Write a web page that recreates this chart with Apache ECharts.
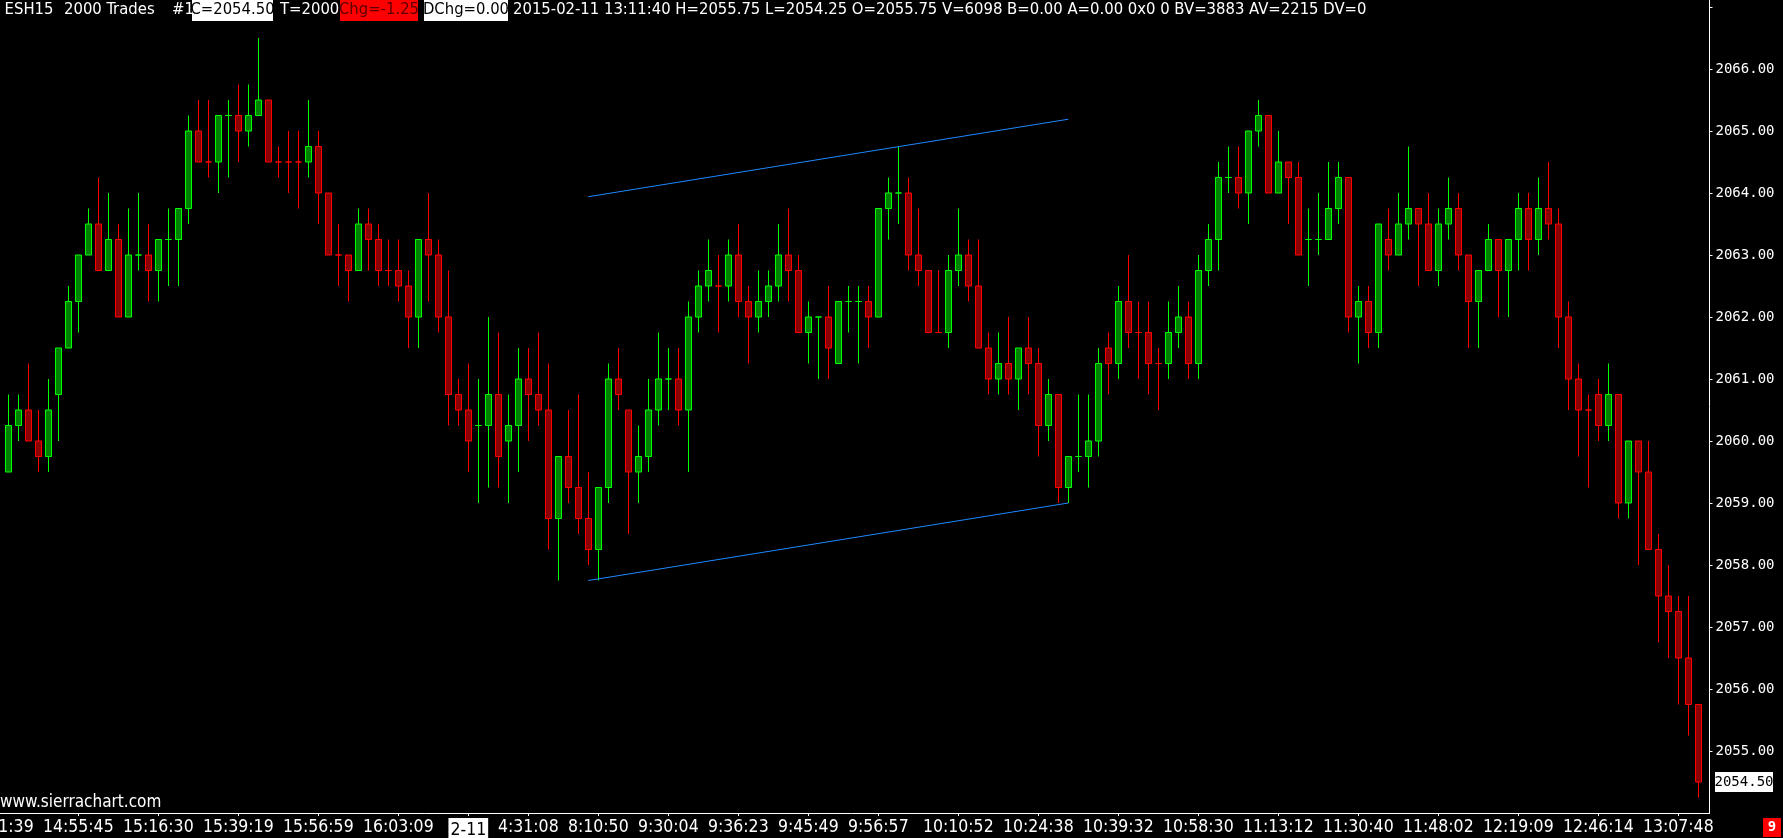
<!DOCTYPE html>
<html><head><meta charset="utf-8">
<script src="https://cdn.jsdelivr.net/npm/echarts@6/dist/echarts.min.js"></script>
<style>html,body{margin:0;padding:0;background:#000;overflow:hidden}#c{width:1783px;height:838px}</style>
</head><body><div id="c"></div>
<script>
// ---------------- data ----------------
const openPrices = [
2059.5,2060.25,2060.5,2060,2059.75,2060.75,2061.5,2062.25,2063,2063.5,
2062.75,2063.25,2062,2063,2063,2062.75,2063.25,2063.25,2063.75,2065,
2064.5,2064.5,2065.25,2065.25,2065,2065.25,2065.5,2064.5,2064.5,2064.5,
2064.5,2064.75,2064,2063,2063,2062.75,2063.5,2063.25,2062.75,2062.75,
2062.5,2062,2063.25,2063,2062,2060.75,2060.5,2060.25,2060.25,2060.75,
2060,2060.25,2061,2060.75,2060.5,2058.75,2059.75,2059.25,2058.75,2058.25,
2059.25,2061,2060.5,2059.5,2059.75,2060.5,2061,2061,2060.5,2062,
2062.5,2062.5,2062.5,2063,2062.25,2062,2062.25,2062.5,2063,2062.75,
2061.75,2062,2062,2061.25,2062.25,2062.25,2062.25,2062,2063.75,2064,
2064,2063,2062.75,2061.75,2061.75,2062.75,2063,2062.5,2061.5,2061,
2061.25,2061,2061.5,2061.25,2060.25,2060.75,2059.25,2059.75,2059.75,2060,
2061.5,2061.25,2062.25,2061.75,2061.75,2061.25,2061.25,2061.75,2062,2061.25,
2062.75,2063.25,2064.25,2064.25,2064,2065,2065.25,2064,2064.5,2064.25,
2063.25,2063.25,2063.25,2063.75,2064.25,2062,2062.25,2061.75,2063.25,2063,
2063.5,2063.75,2063.5,2062.75,2063.5,2063.75,2063,2062.25,2062.75,2063.25,
2062.75,2063.25,2063.75,2063.25,2063.75,2063.5,2062,2061,2060.5,2060.75,
2060.25,2060.75,2059,2060,2059.5,2058.25,2057.5,2057.25,2056.5,2055.75
];
const closePrices = [
2060.25,2060.5,2060,2059.75,2060.5,2061.5,2062.25,2063,2063.5,2062.75,
2063.25,2062,2063,2063,2062.75,2063.25,2063.25,2063.75,2065,2064.5,
2064.5,2065.25,2065.25,2065,2065.25,2065.5,2064.5,2064.5,2064.5,2064.5,
2064.75,2064,2063,2063,2062.75,2063.5,2063.25,2062.75,2062.75,2062.5,
2062,2063.25,2063,2062,2060.75,2060.5,2060,2060.25,2060.75,2059.75,
2060.25,2061,2060.75,2060.5,2058.75,2059.75,2059.25,2058.75,2058.25,2059.25,
2061,2060.75,2059.5,2059.75,2060.5,2061,2061,2060.5,2062,2062.5,
2062.75,2062.5,2063,2062.25,2062,2062.25,2062.5,2063,2062.75,2061.75,
2062,2062,2061.5,2062.25,2062.25,2062.25,2062,2063.75,2064,2064,
2063,2062.75,2061.75,2061.75,2062.75,2063,2062.5,2061.5,2061,2061.25,
2061,2061.5,2061.25,2060.25,2060.75,2059.25,2059.75,2059.75,2060,2061.25,
2061.25,2062.25,2061.75,2061.75,2061.25,2061.25,2061.75,2062,2061.25,2062.75,
2063.25,2064.25,2064.25,2064,2065,2065.25,2064,2064.5,2064.25,2063,
2063.25,2063.25,2063.75,2064.25,2062,2062.25,2061.75,2063.5,2063,2063.5,
2063.75,2063.5,2062.75,2063.5,2063.75,2063,2062.25,2062.75,2063.25,2062.75,
2063.25,2063.75,2063.25,2063.75,2063.5,2062,2061,2060.5,2060.5,2060.25,
2060.75,2059,2060,2059.5,2058.25,2057.5,2057.25,2056.5,2055.75,2054.5
];
const highPrices = [
2060.75,2060.75,2061.25,2060.5,2061,2061.5,2062.5,2063,2063.75,2064.25,
2064,2063.5,2063.75,2064,2063.5,2063.25,2063.75,2063.75,2065.25,2065.5,
2065.5,2065.25,2065.5,2065.75,2065.75,2066.5,2065.5,2064.75,2065,2065,
2065.5,2065,2064,2063.5,2063,2063.75,2063.75,2063.5,2063.25,2063.25,
2062.75,2063.25,2064,2063.25,2062.75,2061,2061.25,2061,2062,2061.75,
2060.75,2061.5,2061.5,2061.75,2061.25,2059.75,2060.5,2060.75,2059.5,2059.25,
2061.25,2061.5,2060.5,2060.25,2061,2061.75,2061.5,2061.5,2062.25,2062.75,
2063.25,2063,2063.25,2063.5,2062.5,2062.75,2062.75,2063.5,2063.75,2063,
2062.25,2062,2062.5,2062.25,2062.5,2062.5,2062.5,2063.75,2064.25,2064.75,
2064.25,2063.75,2062.75,2062.75,2063,2063.75,2063.25,2063.25,2061.75,2061.75,
2062,2061.5,2062,2061.5,2061,2060.75,2059.75,2060.75,2060.75,2061.5,
2061.75,2062.5,2063,2062.25,2062.25,2061.5,2062.25,2062.5,2062.25,2063,
2063.5,2064.5,2064.75,2064.75,2065,2065.5,2065.25,2065,2064.5,2064.5,
2063.75,2064,2064.5,2064.5,2064.25,2062.5,2062.5,2063.5,2063.75,2064,
2064.75,2063.75,2064,2063.75,2064.25,2064,2063,2062.75,2063.5,2063.25,
2063.25,2064,2064,2064.25,2064.5,2063.75,2062.25,2061.25,2060.75,2061,
2061.25,2060.75,2060,2060,2060,2058.5,2058,2057.5,2057.5,2055.75
];
const lowPrices = [
2059.5,2060,2060,2059.5,2059.5,2060,2061.5,2061.75,2063,2062.75,
2062.75,2062,2062,2062.75,2062.25,2062.25,2062.5,2062.5,2063.5,2064.5,
2064.25,2064,2064.25,2064.5,2064.75,2065.25,2064.5,2064.25,2064,2063.75,
2064.25,2063.5,2063,2062.5,2062.25,2062.75,2062.75,2062.5,2062.5,2062.25,
2061.5,2061.5,2062.25,2061.75,2060.25,2060.25,2059.5,2059,2059.25,2059.25,
2059,2059.5,2060,2060.25,2058.25,2057.75,2059,2058.5,2058,2057.75,
2059,2060.5,2058.5,2059,2059.5,2060.25,2060.5,2060.25,2059.5,2061.75,
2062.25,2061.75,2062.25,2062,2061.25,2061.75,2062,2062.25,2062.25,2061.75,
2061.25,2061,2061,2061.25,2061.75,2061.25,2061.5,2062,2063.25,2063.5,
2062.75,2062.5,2061.75,2061.75,2061.5,2062.5,2062.25,2061.5,2060.75,2060.75,
2060.75,2060.5,2060.75,2059.75,2060,2059,2059,2059.5,2059.25,2059.75,
2060.75,2061,2061.5,2061,2060.75,2060.5,2061,2061.5,2061,2061,
2062.5,2062.75,2064,2063.75,2063.5,2064.75,2064,2064,2063.5,2063,
2062.5,2063,2063.25,2063.5,2061.75,2061.25,2061.5,2061.5,2062.75,2063,
2063.25,2062.5,2062.75,2062.5,2063.25,2062.75,2061.5,2061.5,2062.75,2062,
2062,2062.75,2062.75,2063,2063.25,2061.5,2060.5,2059.75,2059.25,2060,
2060,2058.75,2058.75,2058,2058.25,2056.75,2056.5,2055.75,2055.25,2054.25
];
// bar index (0 = first fully visible bar, -1 = bar cut at the left edge) and its time label
const tickBars  = [-1, 7, 15, 23, 31, 39, 46, 52, 59, 66, 73, 80, 87, 95, 103, 111, 119, 127, 135, 143, 151, 159, 167];
const tickTexts = ['14:51:39','14:55:45','15:16:30','15:39:19','15:56:59','16:03:09','2-11','4:31:08','8:10:50','9:30:04','9:36:23','9:45:49','9:56:57','10:10:52','10:24:38','10:39:32','10:58:30','11:13:12','11:30:40','11:48:02','12:19:09','12:46:14','13:07:48'];
const dateBreakText = '2-11';
const channelLower = [[58, 2057.75], [106, 2059.0]];
const channelUpper = [[58, 2063.94], [106, 2065.19]];
const priceTicks = [2055, 2056, 2057, 2058, 2059, 2060, 2061, 2062, 2063, 2064, 2065, 2066];
const lastPrice = 2054.50;
const headerTexts = ['ESH15', '2000 Trades', '#1', 'C=2054.50', 'T=2000', 'Chg=-1.25', 'DChg=0.00',
  '2015-02-11 13:11:40 H=2055.75 L=2054.25 O=2055.75 V=6098 B=0.00 A=0.00 0x0 0 BV=3883 AV=2215 DV=0'];
const watermark = 'www.sierrachart.com';
const cornerText = '9';

// ---------------- build ----------------
const N = openPrices.length;
const categories = [];
for (let i = -1; i < N; i++) categories.push(String(i));
const labelMap = {};
tickBars.forEach((b, i) => { labelMap[b + 1] = tickTexts[i]; });

const UP_FILL = '#008000', UP_LINE = '#00ff00', DN_FILL = '#8b0000', DN_LINE = '#ff0000';
let prevSign = 1;
const candleData = [];
for (let i = 0; i < N; i++) {
  const o = openPrices[i], c = closePrices[i];
  let s;
  if (c > o) s = 1; else if (c < o) s = -1;
  else if (i > 0 && c > closePrices[i - 1]) s = 1;
  else if (i > 0 && c < closePrices[i - 1]) s = -1;
  else s = prevSign;
  prevSign = s;
  const fill = s > 0 ? UP_FILL : DN_FILL, line = s > 0 ? UP_LINE : DN_LINE;
  candleData.push({
    value: [i + 1, o, c, lowPrices[i], highPrices[i]],
    itemStyle: { color: fill, color0: fill, borderColor: line, borderColor0: line, borderColorDoji: line, borderWidth: 1 }
  });
}

const CONDENSED = "'DejaVu Sans Condensed', 'Liberation Sans Narrow', 'DejaVu Sans', sans-serif";
const MONO = "'DejaVu Sans Mono', 'Liberation Mono', monospace";

const GRID_TOP = 0, GRID_H = 813, PX_PER_PT = 62, Y_MIN = 2054;
const Y_MAX = Y_MIN + GRID_H / PX_PER_PT;
const GRID_LEFT = -6.7, BAND = 10;
const GRID_W = BAND * (N + 1);
const AXIS_X = 1709.5;

const chart = echarts.init(document.getElementById('c'), null, { renderer: 'canvas' });
const option = {
  backgroundColor: '#000',
  animation: false,
  grid: { left: GRID_LEFT, top: GRID_TOP, width: GRID_W, height: GRID_H, containLabel: false, outerBoundsMode: 'none' },
  xAxis: {
    type: 'category', data: categories, boundaryGap: true,
    axisLine: { show: true, lineStyle: { color: '#ffffff', width: 1 } },
    axisTick: { show: true, alignWithLabel: true, length: 3, interval: (idx) => labelMap[idx] !== undefined, lineStyle: { color: '#ffffff' } },
    axisLabel: {
      show: true, interval: (idx) => labelMap[idx] !== undefined, hideOverlap: false,
      formatter: (val, idx) => {
        const t = labelMap[idx];
        if (t === undefined) return '';
        return t === dateBreakText ? '{box|' + t + '}' : t;
      },
      color: '#ffffff', fontFamily: CONDENSED, fontSize: 17.5, margin: 5,
      rich: { box: { backgroundColor: '#ffffff', color: '#000000', fontFamily: CONDENSED, fontSize: 17.5, padding: [3, 2, 3, 2] } }
    },
    splitLine: { show: false }
  },
  yAxis: {
    type: 'value', position: 'right', offset: AXIS_X - (GRID_LEFT + GRID_W),
    min: Y_MIN, max: Y_MAX, interval: 1, scale: true,
    axisLine: { show: true, lineStyle: { color: '#ffffff', width: 1 } },
    axisTick: { show: true, length: 3, lineStyle: { color: '#ffffff' } },
    axisLabel: {
      show: true, showMinLabel: false, showMaxLabel: false, margin: 6,
      color: '#ffffff', fontFamily: MONO, fontSize: 14,
      formatter: (v) => priceTicks.indexOf(Math.round(v * 100) / 100) >= 0 ? v.toFixed(2) : ''
    },
    splitLine: { show: false }
  },
  series: [
    {
      type: 'candlestick', data: candleData, encode: { x: 0, y: [1, 2, 3, 4] },
      barWidth: 6, itemStyle: { borderWidth: 1 }, silent: true
    },
    {
      type: 'line', data: channelLower.map(p => [p[0] + 1, p[1]]), symbol: 'none', silent: true,
      lineStyle: { color: '#1e88ff', width: 1 }, z: 5
    },
    {
      type: 'line', data: channelUpper.map(p => [p[0] + 1, p[1]]), symbol: 'none', silent: true,
      lineStyle: { color: '#1e88ff', width: 1 }, z: 5
    }
  ]
};
chart.setOption(option);

// ---------------- annotations ----------------
const yLast = chart.convertToPixel({ yAxisIndex: 0 }, lastPrice);
const HFS = 16.5;
const hdrY = 10;
const g = [];
function txt(x, y, s, opts) {
  return Object.assign({ type: 'text', x: x, y: y, silent: true, z: 100,
    style: Object.assign({ text: s, fill: '#ffffff', font: HFS + 'px ' + CONDENSED, textAlign: 'left', textVerticalAlign: 'middle' }, opts || {}) });
}
function rect(x, y, w, h, fill) {
  return { type: 'rect', shape: { x: x, y: y, width: w, height: h }, style: { fill: fill }, silent: true, z: 99 };
}
// header
g.push(txt(4.6, hdrY, headerTexts[0]));
g.push(txt(64, hdrY, headerTexts[1]));
g.push(txt(172, hdrY, headerTexts[2]));
g.push(rect(192, 0, 81, 21, '#ffffff'));
g.push(txt(232.5, hdrY, headerTexts[3], { fill: '#000000', textAlign: 'center' }));
g.push(txt(280, hdrY, headerTexts[4]));
g.push(rect(340, 0, 78, 21, '#ff0000'));
g.push(txt(379, hdrY, headerTexts[5], { fill: '#5a0000', textAlign: 'center' }));
g.push(rect(424, 0, 84, 21, '#ffffff'));
g.push(txt(466, hdrY, headerTexts[6], { fill: '#000000', textAlign: 'center' }));
g.push(txt(513, hdrY, headerTexts[7]));
// watermark
g.push(txt(0, 803, watermark, { font: '17px ' + CONDENSED }));
// last price box on the price scale
g.push(rect(1715, yLast - 10, 58, 20, '#ffffff'));
g.push(txt(1744, yLast, lastPrice.toFixed(2), { fill: '#000000', textAlign: 'center', font: '14px ' + MONO }));
// corner box
g.push(rect(1763, 818, 18, 19, '#ff0000'));
g.push(txt(1772, 827.5, cornerText, { textAlign: 'center', font: 'bold 14px ' + MONO }));
// join of the two axis lines
const xAxisY = GRID_TOP + GRID_H + 0.5;
g.push({ type: 'line', shape: { x1: GRID_LEFT + GRID_W, y1: xAxisY, x2: AXIS_X + 0.5, y2: xAxisY }, style: { stroke: '#ffffff', lineWidth: 1 }, silent: true, z: 50 });
chart.setOption({ graphic: g });
</script>
</body></html>
